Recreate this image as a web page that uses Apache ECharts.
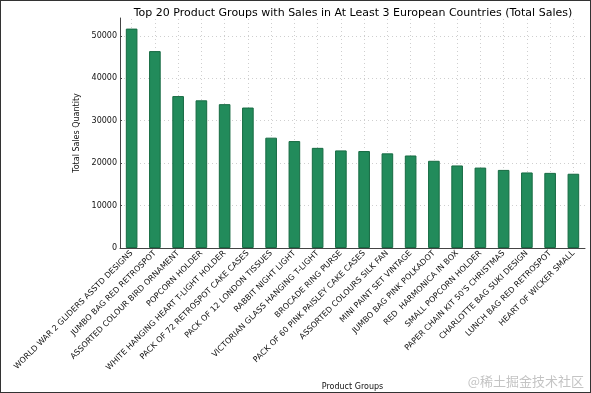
<!DOCTYPE html>
<html><head><meta charset="utf-8">
<script src="https://cdn.jsdelivr.net/npm/echarts@6/dist/echarts.min.js"></script>
<style>html,body{margin:0;padding:0;background:#fff}#c{width:591px;height:393px;box-sizing:border-box;border:1px solid #333}</style>
</head><body><div id="c"></div>
<script>
const categories = ["WORLD WAR 2 GLIDERS ASSTD DESIGNS","JUMBO BAG RED RETROSPOT","ASSORTED COLOUR BIRD ORNAMENT","POPCORN HOLDER","WHITE HANGING HEART T-LIGHT HOLDER","PACK OF 72 RETROSPOT CAKE CASES","PACK OF 12 LONDON TISSUES","RABBIT NIGHT LIGHT","VICTORIAN GLASS HANGING T-LIGHT","BROCADE RING PURSE","PACK OF 60 PINK PAISLEY CAKE CASES","ASSORTED COLOURS SILK FAN","MINI PAINT SET VINTAGE","JUMBO BAG PINK POLKADOT","RED  HARMONICA IN BOX","SMALL POPCORN HOLDER","PAPER CHAIN KIT 50'S CHRISTMAS","CHARLOTTE BAG SUKI DESIGN","LUNCH BAG RED RETROSPOT","HEART OF WICKER SMALL"];
const totalSales = [51700,46400,35800,34800,33900,33100,26000,25200,23600,23000,22850,22300,21800,20550,19450,18950,18400,17800,17700,17500];
const yTicks = [0,10000,20000,30000,40000,50000];
const title = "Top 20 Product Groups with Sales in At Least 3 European Countries (Total Sales)";
const xName = "Product Groups";
const yName = "Total Sales Quantity";
const watermark = "@稀土掘金技术社区";

const FONT = "DejaVu Sans";
const gridStyle = {color: '#cfcfcf', type: [1, 3], width: 1};
const gridLines = yTicks.slice(1).map(v => ({yAxis: v}))
  .concat(categories.map(c => ({xAxis: c})));
const chart = echarts.init(document.getElementById('c'));
chart.setOption({
  animation: false,
  title: {text: title, left: 347, top: 2, textAlign: 'center',
    textStyle: {fontFamily: FONT, fontSize: 11, fontWeight: 'normal', color: '#000'}},
  grid: {left: 119, right: 5, top: 17, bottom: 144, outerBoundsMode: 'none', containLabel: false},
  xAxis: {type: 'category', data: categories, name: xName, nameLocation: 'middle', nameGap: 135,
    nameTextStyle: {fontFamily: FONT, fontSize: 8, color: '#111'},
    axisLine: {lineStyle: {color: '#444', width: 1}},
    axisTick: {show: true, alignWithLabel: true, inside: true, length: 2, lineStyle: {color: '#444'}},
    splitLine: {show: false},
    axisLabel: {rotate: 45, interval: 0, margin: 4, fontFamily: FONT, fontSize: 8, color: '#111'}},
  yAxis: {type: 'value', min: 0, max: 54200, interval: 10000, name: yName, nameLocation: 'middle', nameGap: 27,
    nameTextStyle: {fontFamily: FONT, fontSize: 8, color: '#111'},
    axisLine: {show: true, lineStyle: {color: '#444', width: 1}},
    axisTick: {show: true, inside: true, length: 2, lineStyle: {color: '#444'},
      customValues: yTicks},
    splitLine: {show: false},
    axisLabel: {margin: 3, fontFamily: FONT, fontSize: 8, color: '#111', customValues: yTicks,
      formatter: v => yTicks.includes(v) ? String(v) : ''}},
  series: [
    {type: 'line', data: [], z: 0, silent: true,
      markLine: {z: 0, silent: true, symbol: 'none', label: {show: false}, lineStyle: gridStyle, data: gridLines}},
    {type: 'bar', data: totalSales, barWidth: '50%', z: 3,
      itemStyle: {color: '#228b5b', borderColor: '#176b43', borderWidth: 1}}],
  graphic: [{type: 'text', right: 6, bottom: 4, style: {text: watermark, fontFamily: 'Noto Sans CJK SC', fontSize: 13, fill: '#c4c4c4'}}]
});
</script></body></html>
